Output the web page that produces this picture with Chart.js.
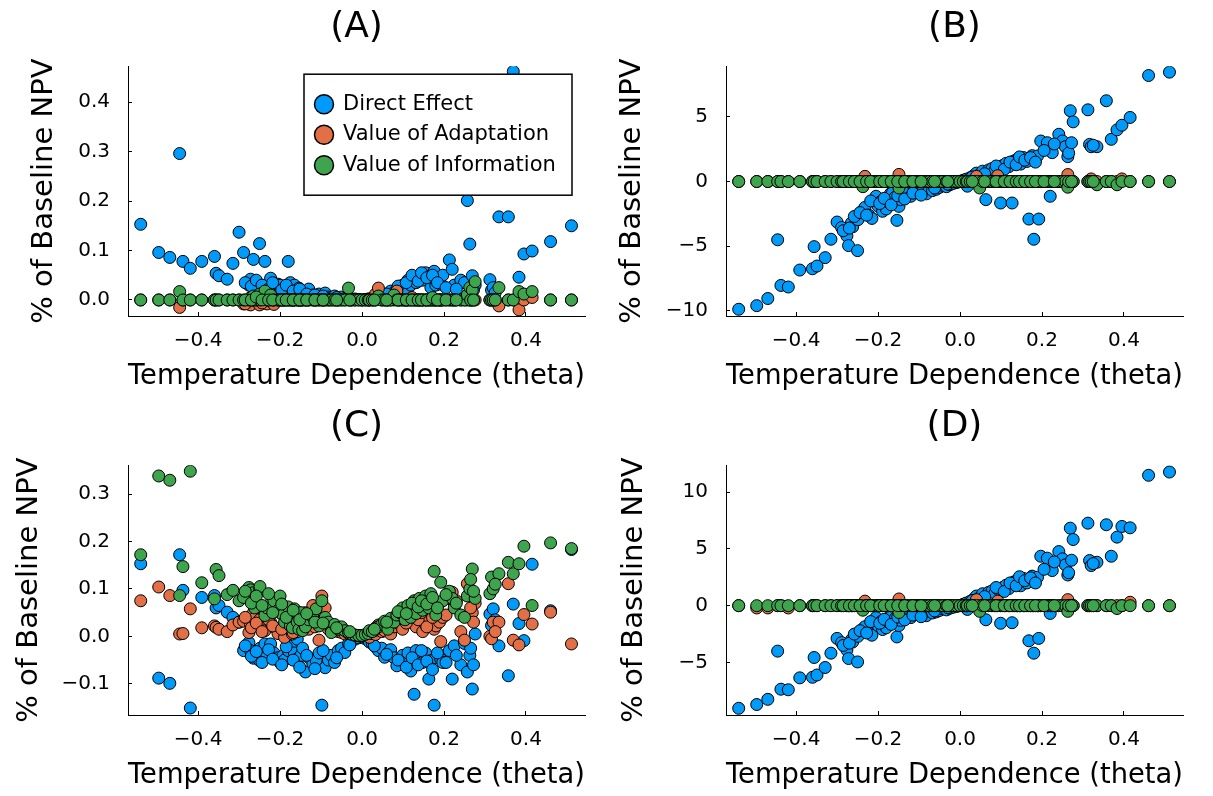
<!DOCTYPE html>
<html>
<head>
<meta charset="utf-8">
<script src="https://cdn.jsdelivr.net/npm/chart.js@4/dist/chart.umd.min.js"></script>
<style>
  body { margin: 0; background: #fff; }
  #wrap { position: relative; width: 1213px; height: 796px; overflow: hidden; background: #fff; }
  canvas { position: absolute; }
</style>
</head>
<body>
<div id="wrap">
  <canvas id="panelA" width="606" height="398" style="left:0px;top:0px"></canvas>
  <canvas id="panelB" width="606" height="398" style="left:598px;top:0px"></canvas>
  <canvas id="panelC" width="606" height="398" style="left:0px;top:399px"></canvas>
  <canvas id="panelD" width="606" height="398" style="left:598px;top:399px"></canvas>
</div>
<script>
// series names + colours
const seriesNames = ["Direct Effect", "Value of Adaptation", "Value of Information"];
const seriesColors = ["#009AFA", "#E36F47", "#3EA44E"];

const xTitle = "Temperature Dependence (theta)";
const yTitle = "% of Baseline NPV";
const xTicks = [-0.4, -0.2, 0, 0.2, 0.4];
const xTickLabels = ["\u22120.4", "\u22120.2", "0.0", "0.2", "0.4"];

const aTicks = [0, 0.1, 0.2, 0.3, 0.4];
const aTickLabels = ["0.0", "0.1", "0.2", "0.3", "0.4"];
const bTicks = [-10, -5, 0, 5];
const bTickLabels = ["\u221210", "\u22125", "0", "5"];
const cTicks = [-0.1, 0, 0.1, 0.2, 0.3];
const cTickLabels = ["\u22120.1", "0.0", "0.1", "0.2", "0.3"];
const dTicks = [-5, 0, 5, 10];
const dTickLabels = ["\u22125", "0", "5", "10"];

// theta of each run (shared by every panel and series)
const theta = [
  -0.540, -0.496, -0.469, -0.445, -0.437, -0.419, -0.391, -0.360, -0.356, -0.349,
  -0.329, -0.315, -0.300, -0.289, -0.276, -0.272, -0.265, -0.262, -0.250, -0.249,
  -0.237, -0.232, -0.223, -0.215, -0.205, -0.200, -0.193, -0.189, -0.180, -0.175,
  -0.170, -0.165, -0.158, -0.154, -0.149, -0.145, -0.138, -0.130, -0.120, -0.112,
  -0.105, -0.098, -0.090, -0.082, -0.075, -0.067, -0.058, -0.050, -0.042, -0.033,
  -0.025, -0.017, -0.008, 0.000, 0.008, 0.015, 0.018, 0.025, 0.033, 0.040,
  0.048, 0.055, 0.063, 0.070, 0.078, 0.085, 0.092, 0.099, 0.105, 0.112,
  0.119, 0.127, 0.132, 0.140, 0.148, 0.155, 0.163, 0.168, 0.176, 0.180,
  0.189, 0.192, 0.197, 0.213, 0.220, 0.225, 0.241, 0.250, 0.257, 0.263,
  0.269, 0.276, 0.312, 0.316, 0.320, 0.334, 0.357, 0.369, 0.383, 0.395,
  0.415, 0.460, 0.511,
  // extra runs in the crowded middle
  -0.285, -0.270, -0.258, -0.244, -0.228, -0.218, -0.196, -0.185, -0.168, -0.152,
  -0.135, -0.115, -0.095, -0.062, -0.030, 0.030, 0.060, 0.088, 0.108, 0.122,
  0.137, 0.145, 0.158, 0.172, 0.184, 0.205, 0.230, 0.265, 0.272, 0.325
];

// (A)
const aDirect = [
  0.153, 0.096, 0.086, 0.296, 0.078, 0.064, 0.078, 0.088, 0.054, 0.049,
  0.042, 0.074, 0.137, 0.096, 0.030, 0.042, 0.082, 0.036, 0.114, 0.020,
  0.078, 0.025, 0.044, 0.018, 0.032, 0.030, 0.015, 0.025, 0.078, 0.035,
  0.028, 0.030, 0.020, 0.024, 0.018, 0.012, 0.015, 0.022, 0.010, 0.008,
  0.012, 0.006, 0.014, 0.006, 0.005, 0.008, 0.004, 0.006, 0.003, 0.004,
  0.002, 0.002, 0.001, 0.000, 0.001, 0.002, 0.002, 0.003, 0.004, 0.005,
  0.008, 0.010, 0.012, 0.018, 0.015, 0.020, 0.025, 0.030, 0.022, 0.040,
  0.030, 0.045, 0.035, 0.050, 0.040, 0.055, 0.048, 0.025, 0.058, 0.030,
  0.040, 0.032, 0.050, 0.081, 0.062, 0.030, 0.040, 0.035, 0.201, 0.113,
  0.049, 0.030, 0.041, 0.020, 0.025, 0.168, 0.168, 0.462, 0.046, 0.093,
  0.099, 0.118, 0.150,
  0.035, 0.028, 0.040, 0.030, 0.022, 0.035, 0.020, 0.030, 0.018, 0.022,
  0.012, 0.010, 0.008, 0.005, 0.003, 0.004, 0.012, 0.028, 0.035, 0.050,
  0.038, 0.055, 0.045, 0.050, 0.035, 0.025, 0.022, 0.018, 0.020, 0.015
];
const aAdapt = [
  0, 0, 0, -0.015, 0, 0, 0, 0, 0, 0,
  0, 0, 0, -0.008, 0, -0.010, 0, 0, -0.010, 0,
  0, -0.008, 0, -0.009, 0, 0, 0, 0, 0, 0,
  0, 0, 0, 0, 0, 0, 0, 0, 0, 0,
  0, 0, 0, 0, 0, 0, 0, 0, 0, 0,
  0, 0, 0, 0, 0, 0, 0, 0, 0.012, 0.024,
  0, 0, 0, 0, 0, 0.018, 0, 0, 0, 0,
  0, 0, 0, 0, 0, 0, 0, 0, 0, 0,
  0, 0, 0, 0, 0, 0, 0, 0, 0, 0,
  0, 0, 0, 0, 0, -0.012, 0, 0, -0.020, 0,
  0.005, 0, 0,
  -0.008, 0, 0, -0.006, 0, 0, 0, 0, 0, 0,
  0, 0, 0, 0, 0, 0, 0, 0, 0, 0.005,
  0, 0, 0, 0, 0, 0, 0, 0, 0, 0
];
const aInfo = [
  0, 0, 0, 0.017, 0, 0, 0, 0, 0, 0,
  0, 0, 0, 0, 0, 0.005, 0.008, 0, 0.012, 0,
  0.018, 0, 0.010, 0, 0, 0, 0, 0, 0, 0,
  0, 0, 0, 0, 0, 0, 0, 0, 0, 0,
  0, 0, 0, 0, 0, 0, 0, 0, 0, 0.024,
  0, 0, 0, 0, 0, 0, 0, 0, 0, 0.008,
  0, 0, 0, 0, 0.010, 0, 0, 0, 0, 0,
  0, 0, 0, 0, 0, 0, 0, 0, 0, 0,
  0, 0, 0, 0, 0, 0, 0, 0, 0.010, 0.025,
  0.020, 0.037, 0, 0, 0, 0.025, 0, 0, 0.017, 0.012,
  0.017, 0, 0,
  0, 0, 0.006, 0, 0, 0, 0, 0, 0, 0,
  0, 0, 0, 0, 0, 0, 0, 0, 0, 0,
  0, 0, 0, 0.005, 0, 0, 0, 0, 0, 0
];

// (B)
const bDirect = [
  -9.87, -9.59, -9.04, -4.50, -8.03, -8.15, -6.84, -6.74, -5.03, -6.53,
  -5.88, -4.46, -3.13, -3.55, -4.20, -4.95, -3.20, -3.50, -5.34, -2.95,
  -2.23, -2.00, -2.59, -2.85, -1.14, -1.90, -1.53, -2.30, -2.12, -1.60,
  -0.95, -0.88, -1.20, -3.00, -1.92, -1.40, -1.00, -0.75, -1.14, -0.60,
  -0.85, -0.65, -0.75, -0.95, -0.55, -0.70, -0.60, -0.45, -0.30, -0.40,
  -0.25, -0.15, -0.08, 0.02, 0.10, 0.18, -0.36, 0.30, 0.45, 0.65,
  0.55, 0.80, -1.40, 0.90, 1.00, 0.85, 1.10, -1.66, 1.25, 1.40,
  1.15, -1.66, 1.60, 1.70, 1.35, 1.85, 1.55, -2.90, 2.00, -4.46,
  1.97, -2.90, 3.13, 3.00, -1.14, 2.23, 3.65, 3.13, 2.69, 1.92,
  5.47, 4.61, 5.54, 2.87, 2.69, 2.69, 6.24, 3.26, 3.99, 4.35,
  4.95, 8.19, 8.45,
  -3.80, -3.60, -2.70, -2.40, -2.60, -1.50, -1.70, -1.30, -1.80, -1.10,
  -1.35, -0.90, -1.05, -0.50, -0.20, 0.35, 0.60, 1.20, 0.95, 1.50,
  1.30, 1.90, 1.65, 1.85, 1.50, 2.40, 2.90, 2.20, 3.00, 2.80
];
const bAdapt = [
  0, 0, 0, 0, 0, 0, 0, 0, 0, 0,
  0, 0, 0, 0, 0, 0, 0, 0, 0, 0,
  0, 0.40, 0, 0, 0, 0, 0, 0, 0, 0,
  0, 0, 0, 0, 0.55, 0, 0, 0, 0, 0,
  0, 0, 0, 0, 0, 0, 0, 0, 0, 0,
  0, 0, 0, 0, 0, 0, 0, 0, 0, 0.40,
  0, 0, 0, 0, 0, 0, 0.45, 0, 0, 0,
  0, 0, 0, 0, 0, 0, 0, 0, 0, 0,
  0, 0, 0, 0, 0, 0, 0, 0, 0, 0.54,
  0, 0, 0, 0, 0.20, 0, 0, 0, 0, 0.20,
  0, 0, 0,
  0, 0, 0, 0, 0, 0, 0, 0, 0, 0,
  0, 0, 0, 0, 0, 0, 0, 0, 0, 0,
  0, 0, 0, 0, 0, 0, 0, 0, 0, 0
];
const bInfo = [
  0, 0, 0, 0, 0, 0, 0, 0, 0, 0,
  0, 0, 0, 0, 0, 0, 0, 0, 0, 0,
  -0.40, 0, 0, 0, 0, 0, 0, 0, 0, 0,
  0, 0, 0, 0, -0.50, 0, 0, 0, 0, 0,
  0, 0, 0, 0, 0, 0, 0, 0, 0, 0,
  0, 0, 0, 0, 0, 0, 0, 0, 0, 0,
  -0.50, 0, 0, 0, 0, 0, 0, 0, 0, 0,
  0, 0, 0, 0, 0, 0, 0, 0, 0, 0,
  0, 0, 0, 0, 0, 0, 0, 0, 0, -0.44,
  0, 0, 0, 0, 0, -0.25, 0, 0, -0.25, 0,
  0, 0, 0,
  0, 0, 0, 0, 0, 0, 0, 0, 0, 0,
  0, 0, 0, 0, 0, 0, 0, 0, 0, 0,
  0, 0, 0, 0, 0, 0, 0, 0, 0, 0
];

// (C)
const cDirect = [
  0.153, -0.088, -0.099, 0.172, 0.097, -0.151, 0.082, 0.086, 0.060, 0.065,
  0.051, 0.040, 0.030, -0.030, -0.013, -0.030, -0.046, -0.040, -0.051, -0.025,
  -0.016, -0.040, -0.016, -0.035, -0.045, -0.055, -0.041, -0.050, -0.030, -0.009,
  -0.020, -0.035, -0.006, -0.044, -0.040, -0.025, -0.075, -0.045, -0.058, -0.050,
  -0.035, -0.145, -0.066, -0.050, -0.040, -0.055, -0.030, -0.025, -0.034, -0.015,
  -0.010, -0.006, -0.003, -0.001, -0.005, -0.008, -0.012, -0.015, -0.022, -0.030,
  -0.025, -0.044, -0.035, -0.028, -0.045, -0.062, -0.048, -0.040, -0.055, -0.035,
  -0.073, -0.122, -0.030, -0.041, -0.055, -0.035, -0.090, -0.051, -0.145, -0.045,
  -0.040, -0.048, -0.055, -0.030, -0.090, -0.020, -0.060, -0.015, -0.075, -0.040,
  -0.111, 0.005, 0.047, 0.023, 0.058, -0.020, -0.083, 0.068, 0.027, -0.009,
  0.152, 0.054, 0.183,
  -0.020, -0.042, -0.032, -0.055, -0.028, -0.048, -0.060, -0.022, -0.050, -0.065,
  -0.040, -0.068, -0.030, -0.045, -0.018, -0.020, -0.038, -0.050, -0.065, -0.045,
  -0.060, -0.030, -0.052, -0.070, -0.035, -0.055, -0.040, -0.025, -0.060, 0.035
];
const cAdapt = [
  0.075, 0.104, 0.086, 0.005, 0.006, 0.058, 0.018, 0.022, 0.019, 0.015,
  0.010, 0.024, 0.030, 0.032, 0.008, 0.025, 0.050, 0.038, 0.035, 0.020,
  0.012, 0.045, 0.030, 0.020, 0.006, 0.050, 0.015, -0.002, 0.030, 0.025,
  0.005, 0.012, 0.010, 0.040, 0.038, 0.020, 0.050, 0.015, 0.065, 0.040,
  -0.008, 0.085, 0.060, 0.015, 0.012, 0.022, 0.010, 0.008, 0.005, 0.006,
  0.004, 0.002, 0.001, 0.001, 0.002, 0.004, -0.002, 0.006, 0.004, 0.024,
  0.010, 0.012, 0.020, 0.005, 0.020, 0.032, 0.025, 0.015, 0.038, 0.050,
  0.030, 0.060, 0.020, 0.045, 0.010, 0.025, 0.035, 0.048, 0.015, 0.022,
  0.030, -0.011, 0.040, 0.085, 0.093, 0.070, 0.010, -0.008, 0.111, 0.085,
  0.050, 0.070, 0.000, -0.005, 0.030, 0.030, 0.111, -0.008, -0.018, 0.046,
  0.026, 0.051, -0.016,
  0.040, 0.018, 0.028, 0.010, 0.035, 0.022, 0.015, 0.042, 0.008, 0.030,
  0.045, 0.020, 0.032, 0.015, 0.008, 0.012, 0.022, 0.040, 0.028, 0.055,
  0.035, 0.050, 0.020, 0.040, 0.065, 0.045, 0.075, 0.060, 0.030, 0.010
];
const cInfo = [
  0.172, 0.338, 0.329, 0.086, 0.147, 0.348, 0.113, 0.079, 0.141, 0.128,
  0.088, 0.097, 0.075, 0.082, 0.103, 0.098, 0.092, 0.060, 0.098, 0.105,
  0.044, 0.060, 0.070, 0.075, 0.055, 0.085, 0.045, 0.030, 0.062, 0.022,
  0.018, 0.058, 0.030, 0.015, 0.050, 0.012, 0.020, 0.035, 0.040, 0.058,
  0.022, 0.075, 0.040, 0.030, 0.008, 0.025, 0.015, 0.020, 0.012, 0.008,
  0.005, 0.003, 0.002, 0.002, 0.004, 0.006, 0.012, 0.010, 0.018, 0.020,
  0.025, 0.032, 0.015, 0.038, 0.030, 0.045, 0.050, 0.060, 0.035, 0.065,
  0.040, 0.075, 0.048, 0.080, 0.055, 0.085, 0.060, 0.090, 0.137, 0.045,
  0.070, 0.114, 0.075, 0.095, 0.080, 0.060, 0.045, 0.040, 0.085, 0.100,
  0.142, 0.080, 0.090, 0.125, 0.100, 0.132, 0.156, 0.132, 0.153, 0.190,
  0.065, 0.197, 0.185,
  0.095, 0.070, 0.085, 0.065, 0.090, 0.050, 0.068, 0.040, 0.055, 0.035,
  0.048, 0.030, 0.028, 0.018, 0.010, 0.015, 0.030, 0.052, 0.048, 0.070,
  0.062, 0.075, 0.068, 0.082, 0.060, 0.088, 0.070, 0.120, 0.095, 0.110
];

// (D)
const dDirect = [
  -9.03, -8.70, -8.24, -4.00, -7.35, -7.40, -6.35, -6.30, -4.56, -6.10,
  -5.44, -4.18, -2.88, -3.25, -3.90, -4.65, -3.00, -3.20, -4.95, -2.70,
  -2.05, -1.85, -2.40, -2.60, -1.05, -1.75, -1.40, -2.10, -1.95, -1.45,
  -0.88, -0.80, -1.10, -2.75, -1.75, -1.30, -0.92, -0.70, -1.05, -0.55,
  -0.78, -0.60, -0.70, -0.88, -0.50, -0.64, -0.55, -0.42, -0.28, -0.37,
  -0.23, -0.14, -0.07, 0.02, 0.13, 0.23, -0.33, 0.39, 0.58, 0.85,
  0.72, 1.05, -1.24, 1.18, 1.30, 1.10, 1.45, -1.55, 1.62, 1.80,
  1.50, -1.50, 2.10, 2.25, 1.75, 2.40, 2.00, -3.09, 2.60, -4.18,
  2.50, -2.88, 4.35, 4.18, -0.68, 3.09, 4.76, 4.12, 3.59, 2.70,
  6.82, 5.82, 7.26, 3.97, 3.53, 3.82, 7.12, 4.35, 6.03, 6.97,
  6.85, 11.47, 11.76,
  -3.50, -3.30, -2.50, -2.20, -2.40, -1.40, -1.55, -1.20, -1.65, -1.00,
  -1.25, -0.83, -0.97, -0.46, -0.18, 0.45, 0.80, 1.60, 1.25, 2.00,
  1.75, 2.55, 2.20, 2.45, 2.00, 3.20, 3.85, 2.90, 4.00, 3.70
];
const dAdapt = [
  0, -0.20, -0.20, 0, 0, -0.20, 0, 0, 0, 0,
  0, 0, 0, 0, 0, 0, 0, 0, 0, 0,
  0, 0.40, 0, 0, 0, 0, 0, 0, 0, 0,
  0, 0, 0, 0, 0.59, 0, 0, 0, 0, 0,
  0, 0, 0, 0, 0, 0, 0, 0, 0, 0,
  0, 0, 0, 0, 0, 0, 0, 0, 0, 0.53,
  0, 0, 0, 0, 0, 0, 0.40, 0, 0, 0,
  0, 0, 0, 0, 0, 0, 0, 0, 0, 0,
  0, 0, 0, 0, 0, 0, 0, 0, 0, 0.53,
  0, 0, 0, 0, 0, 0, 0, 0, 0, 0,
  0.30, 0, 0,
  0, 0, 0, 0, 0, 0, 0, 0, 0, 0,
  0, 0, 0, 0, 0, 0, 0, 0, 0, 0,
  0, 0, 0, 0, 0, 0, 0, 0, 0, 0
];
const dInfo = [
  0, 0, 0, 0, 0, 0, 0, 0, 0, 0,
  0, 0, 0, 0, 0, 0, 0, 0, 0, 0,
  -0.40, 0, 0, 0, 0, 0, 0, 0, 0, 0,
  0, 0, 0, 0, -0.60, 0, 0, 0, 0, 0,
  0, 0, 0, 0, 0, 0, 0, 0, 0, 0,
  0, 0, 0, 0, 0, 0, 0, 0, 0, 0,
  -0.50, 0, 0, 0, 0, 0, 0, 0, 0, 0,
  0, 0, 0, 0, 0, 0, 0, 0, 0, 0,
  0, 0, 0, 0, 0, 0, 0, 0, 0, -0.50,
  0, 0, 0, 0, 0, 0, 0, 0, -0.25, 0,
  0, 0, 0,
  0, 0, 0, 0, 0, 0, 0, 0, 0, 0,
  0, 0, 0, 0, 0, 0, 0, 0, 0, 0,
  0, 0, 0, 0, 0, 0, 0, 0, 0, 0
];

Chart.defaults.font.family = "'DejaVu Sans', sans-serif";
Chart.defaults.color = "#000";

// legend box drawn inside the plot area (only used on panel A)
const legendBox = {
  id: "legendBox",
  afterDatasetsDraw(chart, args, opts) {
    if (!opts.show) return;
    const ctx = chart.ctx;
    const area = chart.chartArea;
    const w = 268, h = 121;
    const x0 = area.right - 13 - w;
    const y0 = area.top + 8;
    ctx.save();
    ctx.fillStyle = "#fff";
    ctx.fillRect(x0, y0, w, h);
    ctx.strokeStyle = "#000";
    ctx.lineWidth = 1.5;
    ctx.strokeRect(x0, y0, w, h);
    ctx.font = "21px 'DejaVu Sans'";
    ctx.textBaseline = "middle";
    ctx.textAlign = "left";
    chart.data.datasets.forEach((ds, i) => {
      const y = y0 + 30 + i * 30.5;
      ctx.beginPath();
      ctx.arc(x0 + 20, y, 9.5, 0, Math.PI * 2);
      ctx.fillStyle = ds.backgroundColor;
      ctx.fill();
      ctx.lineWidth = 1.5;
      ctx.stroke();
      ctx.fillStyle = "#000";
      ctx.fillText(ds.label, x0 + 39, y);
    });
    ctx.restore();
  },
};

const toPoints = (vals) => theta.map((t, i) => ({ x: t, y: vals[i] }));

const makePanel = (id, title, series, yMin, yMax, yTicks, yLabels, yTitlePad, showLegend) => {
  const datasets = series.map((vals, i) => ({
    label: seriesNames[i],
    data: toPoints(vals),
    backgroundColor: seriesColors[i],
    borderColor: "#000",
    borderWidth: 1,
    pointRadius: 6,
    order: 3 - i,
  }));
  return new Chart(document.getElementById(id), {
    type: "scatter",
    data: { datasets: datasets },
    plugins: [legendBox],
    options: {
      responsive: false,
      animation: false,
      events: [],
      layout: { padding: { left: 0, right: 21, top: 0, bottom: 0 } },
      plugins: {
        legend: { display: false },
        tooltip: { enabled: false },
        legendBox: { show: showLegend },
        title: {
          display: true,
          text: title,
          fullSize: false,
          font: { size: 36, weight: "normal" },
          color: "#000",
          padding: { top: 6, bottom: 17 },
        },
      },
      scales: {
        x: {
          type: "linear",
          position: "bottom",
          min: -0.571,
          max: 0.544,
          afterBuildTicks: (s) => { s.ticks = xTicks.map((v) => ({ value: v })); },
          afterFit: (s) => { s.height = 82; },
          ticks: {
            font: { size: 20 },
            color: "#000",
            padding: 17,
            maxRotation: 0,
            autoSkip: false,
            callback: (v, i) => xTickLabels[i],
          },
          grid: { drawOnChartArea: false, drawTicks: true, tickLength: -4, color: "#000" },
          border: { color: "#000", width: 1 },
          title: {
            display: true,
            text: xTitle,
            font: { size: 29 },
            color: "#000",
            padding: { top: 0, bottom: 4 },
          },
        },
        y: {
          type: "linear",
          position: "left",
          min: yMin,
          max: yMax,
          afterBuildTicks: (s) => { s.ticks = yTicks.map((v) => ({ value: v })); },
          afterFit: (s) => { s.width = 128; },
          ticks: {
            font: { size: 20 },
            color: "#000",
            padding: 22,
            autoSkip: false,
            callback: (v, i) => yLabels[i],
          },
          grid: { drawOnChartArea: false, drawTicks: true, tickLength: -4, color: "#000" },
          border: { color: "#000", width: 1 },
          title: {
            display: true,
            text: yTitle,
            font: { size: 29 },
            color: "#000",
            padding: { top: yTitlePad, bottom: 0 },
          },
        },
      },
    },
  });
};

makePanel("panelA", "(A)", [aDirect, aAdapt, aInfo], -0.0324, 0.4726, aTicks, aTickLabels, 27, true);
makePanel("panelB", "(B)", [bDirect, bAdapt, bInfo], -10.39, 8.91, bTicks, bTickLabels, 17, false);
makePanel("panelC", "(C)", [cDirect, cAdapt, cInfo], -0.1657, 0.3607, cTicks, cTickLabels, 12, false);
makePanel("panelD", "(D)", [dDirect, dAdapt, dInfo], -9.62, 12.36, dTicks, dTickLabels, 19, false);
</script>
</body>
</html>
